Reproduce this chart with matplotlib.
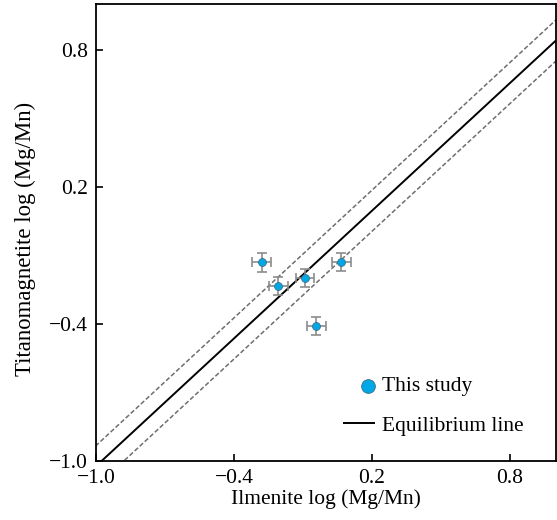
import matplotlib
matplotlib.use("Agg")
import matplotlib.pyplot as plt
from matplotlib.legend_handler import HandlerPathCollection
import numpy as np

plt.rcParams['font.family'] = ['Liberation Serif', 'DejaVu Serif']
plt.rcParams['mathtext.fontset'] = 'stix'

# Data (log Mg/Mn)
ilm = [-0.280, -0.207, -0.091, 0.066, -0.042]
mt = [-0.131, -0.235, -0.200, -0.128, -0.409]
ilm_err = [0.041, 0.041, 0.041, 0.041, 0.041]
mt_err = [0.040, 0.040, 0.040, 0.040, 0.040]

# Equilibrium line (Bacon & Hirschmann, 1988) and envelope
slope = 0.9317
intercept = -0.0909
envelope = 0.09

ticks = [-1.0, -0.4, 0.2, 0.8]
tick_labels = ['\u22121.0', '\u22120.4', '0.2', '0.8']


class RightHandler(HandlerPathCollection):
    def get_xdata(self, legend, xdescent, ydescent, width, height, fontsize):
        xd = [-xdescent + 0.77 * width]
        return xd, xd


fig = plt.figure(figsize=(5.57, 5.20), dpi=100)
ax = fig.add_axes([0.1724, 0.1135, 0.8256, 0.8785])

xx = np.array([-1.2, 1.2])
ax.plot(xx, slope * xx + intercept, color='black', lw=1.4, zorder=2,
        label='Equilibrium line')
ax.plot(xx, slope * xx + intercept + envelope, color='#6e6e6e', lw=1.1,
        ls=(0, (3, 1.5)), zorder=2)
ax.plot(xx, slope * xx + intercept - envelope, color='#6e6e6e', lw=1.1,
        ls=(0, (3, 1.5)), zorder=2)

ax.errorbar(ilm, mt, xerr=ilm_err, yerr=mt_err, fmt='none', ecolor='#8c8c8c',
            elinewidth=1.2, capsize=3.5, capthick=1.2, zorder=3)
sc = ax.scatter(ilm, mt, s=32, color='#00A9E6', edgecolor='#3c6e86',
                linewidths=0.6, zorder=4, label='This study')

ax.set_xlim(-1.0, 1.0)
ax.set_ylim(-1.0, 1.0)
ax.set_xticks(ticks)
ax.set_xticklabels(tick_labels)
ax.set_yticks(ticks)
ax.set_yticklabels(tick_labels)
ax.tick_params(direction='in', length=5, width=1.2, labelsize=15.5, pad=6)
for s in ax.spines.values():
    s.set_linewidth(1.3)

ax.set_xlabel('Ilmenite log (Mg/Mn)', fontsize=15.5, labelpad=1)
ax.set_ylabel('Titanomagnetite log (Mg/Mn)', fontsize=16.4)
ax.yaxis.set_label_coords(-0.131, 0.485)

handles, labels = ax.get_legend_handles_labels()
order = [labels.index('This study'), labels.index('Equilibrium line')]
ax.legend([handles[i] for i in order], [labels[i] for i in order],
          loc='lower right', bbox_to_anchor=(0.972, 0.013), frameon=False,
          fontsize=15.5, handlelength=1.4, handletextpad=0.35, labelspacing=0.9,
          markerscale=1.75, handler_map={sc: RightHandler()})

fig.savefig('out.png', dpi=100)
